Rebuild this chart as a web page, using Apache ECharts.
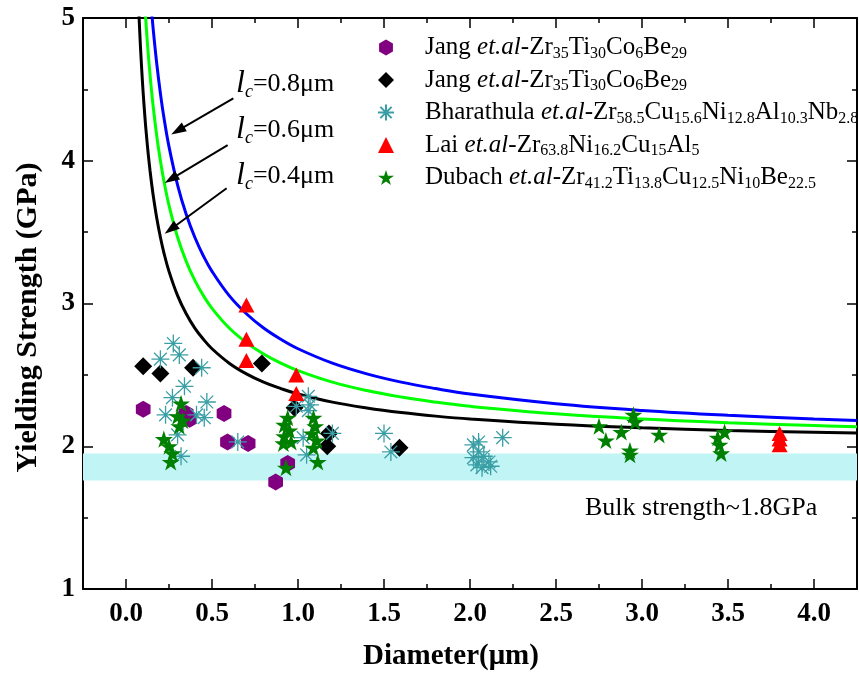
<!DOCTYPE html>
<html><head><meta charset="utf-8">
<script src="https://cdn.jsdelivr.net/npm/echarts@6/dist/echarts.min.js"></script>
<style>html,body{margin:0;padding:0;background:#fff}#c{width:859px;height:684px}</style>
</head><body><div id="c"></div>
<script>
// ---------- data ----------
const xMajorTicks = [0, 0.5, 1.0, 1.5, 2.0, 2.5, 3.0, 3.5, 4.0];
const xMinorTicks = [-0.25, 0, 0.25, 0.5, 0.75, 1.0, 1.25, 1.5, 1.75, 2.0, 2.25, 2.5, 2.75, 3.0, 3.25, 3.5, 3.75, 4.0, 4.25];
const bulkBand = [1.76, 1.95];

// model curves (diameter, strength)
const curveD   = [0.07, 0.08, 0.09, 0.10, 0.11, 0.12, 0.13, 0.14, 0.15, 0.16, 0.18, 0.20, 0.22, 0.25, 0.30, 0.35, 0.40, 0.45, 0.50, 0.60, 0.70, 0.80, 0.90, 1.0, 1.2, 1.4, 1.6, 1.8, 2.0, 2.5, 3.0, 3.5, 4.0, 4.25];
const curveL04 = [5.183, 4.899, 4.667, 4.472, 4.306, 4.163, 4.038, 3.928, 3.830, 3.742, 3.590, 3.464, 3.357, 3.225, 3.055, 2.928, 2.828, 2.749, 2.683, 2.582, 2.507, 2.449, 2.404, 2.366, 2.309, 2.268, 2.236, 2.211, 2.191, 2.154, 2.129, 2.111, 2.098, 2.092];
const curveL06 = [6.188, 5.831, 5.538, 5.292, 5.081, 4.899, 4.739, 4.598, 4.472, 4.359, 4.163, 4.000, 3.861, 3.688, 3.464, 3.295, 3.162, 3.055, 2.966, 2.828, 2.726, 2.646, 2.582, 2.530, 2.449, 2.390, 2.345, 2.309, 2.280, 2.227, 2.191, 2.165, 2.145, 2.137];
const curveL08 = [7.050, 6.633, 6.289, 6.000, 5.752, 5.538, 5.349, 5.182, 5.033, 4.899, 4.667, 4.472, 4.306, 4.099, 3.830, 3.625, 3.464, 3.333, 3.225, 3.055, 2.928, 2.828, 2.749, 2.683, 2.582, 2.507, 2.449, 2.404, 2.366, 2.298, 2.251, 2.217, 2.191, 2.180];

// scatter data [diameter, strength]
const jangHex = [[0.10, 2.26], [0.35, 2.23], [0.37, 2.19], [0.57, 2.23], [0.59, 2.03], [0.71, 2.02], [0.94, 1.88], [0.87, 1.75]];
const jangDiamond = [[0.10, 2.56], [0.20, 2.51], [0.39, 2.55], [0.79, 2.58], [0.98, 2.27], [1.18, 2.09], [1.17, 2.00], [1.59, 1.99]];
const bharathula = [[0.275, 2.72], [0.20, 2.61], [0.31, 2.64], [0.44, 2.55], [0.34, 2.42], [0.27, 2.34], [0.47, 2.31], [0.23, 2.22], [0.41, 2.22], [0.455, 2.20], [0.30, 2.08], [0.32, 1.93], [0.65, 2.03],
  [1.06, 2.35], [1.07, 2.29], [0.99, 2.28], [1.06, 2.25], [1.03, 2.06], [1.05, 1.94], [1.20, 2.09],
  [1.50, 2.09], [1.54, 1.96],
  [2.02, 2.01], [2.05, 2.03], [2.05, 1.96], [2.08, 1.93], [2.11, 1.89], [2.04, 1.87], [2.12, 1.86], [2.07, 1.85], [2.02, 1.92], [2.19, 2.06]];
const lai = [[0.70, 2.99], [0.70, 2.75], [0.70, 2.60], [0.99, 2.50], [0.99, 2.37], [3.80, 2.09], [3.80, 2.05], [3.80, 2.01]];
const dubach = [[0.32, 2.30], [0.30, 2.21], [0.33, 2.18], [0.31, 2.14], [0.22, 2.05], [0.25, 2.00], [0.27, 1.95], [0.26, 1.89],
  [0.94, 2.20], [0.92, 2.15], [0.95, 2.11], [0.92, 2.07], [0.96, 2.03], [0.915, 2.02], [0.93, 1.85],
  [1.09, 2.20], [1.10, 2.14], [1.08, 2.09], [1.11, 2.04], [1.09, 1.99], [1.115, 1.89],
  [2.75, 2.14], [2.79, 2.04], [2.88, 2.10], [2.95, 2.22], [2.96, 2.17], [2.93, 1.97], [2.93, 1.94], [3.10, 2.08], [3.44, 2.06], [3.48, 2.10], [3.45, 2.01], [3.46, 1.95]];

// annotation arrows (data coords): tails and heads
const arrowTails = [[0.624, 4.437], [0.591, 4.110], [0.585, 3.807]];
const arrowHeads = [[0.301, 4.211], [0.262, 3.871], [0.260, 3.520]];
const lcLabels = ['0.8', '0.6', '0.4'];

// ---------- chart ----------
const FONT = '"Liberation Serif","Times New Roman",Times,serif';
const HEX = 'path://M0,-1L0.866,-0.5L0.866,0.5L0,1L-0.866,0.5L-0.866,-0.5Z';
const STAR = 'path://M0,-1L0.2245,-0.309L0.951,-0.309L0.3633,0.118L0.5878,0.809L0,0.382L-0.5878,0.809L-0.3633,0.118L-0.951,-0.309L-0.2245,-0.309Z';
const AST = 'path://M0,-1L0,1M-1,0L1,0M-0.7071,-0.7071L0.7071,0.7071M-0.7071,0.7071L0.7071,-0.7071';
const pairs = (xs, ys) => xs.map((x, i) => [x, ys[i]]);

const legendLabels = {
  'Jang hex': '{sp| }{n|Jang }{i|et.al}{n|-Zr}{s|35}{n|Ti}{s|30}{n|Co}{s|6}{n|Be}{s|29}',
  'Jang diamond': '{sp| }{n|Jang }{i|et.al}{n|-Zr}{s|35}{n|Ti}{s|30}{n|Co}{s|6}{n|Be}{s|29}',
  'Bharathula': '{sp| }{n|Bharathula }{i|et.al}{n|-Zr}{s|58.5}{n|Cu}{s|15.6}{n|Ni}{s|12.8}{n|Al}{s|10.3}{n|Nb}{s|2.8}',
  'Lai': '{sp| }{n|Lai }{i|et.al}{n|-Zr}{s|63.8}{n|Ni}{s|16.2}{n|Cu}{s|15}{n|Al}{s|5}',
  'Dubach': '{sp| }{n|Dubach }{i|et.al}{n|-Zr}{s|41.2}{n|Ti}{s|13.8}{n|Cu}{s|12.5}{n|Ni}{s|10}{n|Be}{s|22.5}'
};

const axisLineStyle = { color: '#000', width: 2 };
const tickStyle = { color: '#000', width: 1.5 };

const chart = echarts.init(document.getElementById('c'), null, { renderer: 'canvas', width: 859, height: 684 });

const annRich = {
  l: { fontFamily: FONT, fontSize: 32, fontStyle: 'italic', lineHeight: 34, verticalAlign: 'middle', fill: '#000' },
  c: { fontFamily: FONT, fontSize: 18, fontStyle: 'italic', lineHeight: 11, verticalAlign: 'bottom', fill: '#000' },
  n: { fontFamily: FONT, fontSize: 26, lineHeight: 34, verticalAlign: 'middle', fill: '#000' }
};
const annTops = [68, 114, 160];

const option = {
  animation: false,
  backgroundColor: '#fff',
  grid: { left: 83, right: 2, top: 18, bottom: 95, containLabel: false },
  legend: {
    orient: 'vertical', left: 372, top: 30,
    itemWidth: 16, itemHeight: 16, itemGap: 6,
    selectedMode: false,
    data: ['Jang hex', 'Jang diamond', 'Bharathula', 'Lai', 'Dubach'],
    formatter: name => legendLabels[name],
    textStyle: {
      fontFamily: FONT, fontSize: 25, color: '#000',
      rich: {
        sp: { width: 26, fontSize: 25, lineHeight: 28 },
        n: { fontFamily: FONT, fontSize: 25, lineHeight: 28, verticalAlign: 'middle', color: '#000' },
        i: { fontFamily: FONT, fontSize: 25, lineHeight: 28, fontStyle: 'italic', verticalAlign: 'middle', color: '#000' },
        s: { fontFamily: FONT, fontSize: 16, lineHeight: 9, verticalAlign: 'bottom', color: '#000' }
      }
    }
  },
  xAxis: [
    {
      type: 'value', min: -0.25, max: 4.25, position: 'bottom',
      name: 'Diameter(μm)', nameLocation: 'middle', nameGap: 53,
      nameTextStyle: { fontFamily: FONT, fontSize: 29, fontWeight: 'bold', color: '#000', padding: [0, 38, 0, 0] },
      axisLine: { show: true, onZero: false, lineStyle: axisLineStyle },
      axisTick: { show: true, inside: true, length: 10, lineStyle: tickStyle, customValues: xMajorTicks },
      axisLabel: { show: true, customValues: xMajorTicks, margin: 12, formatter: v => v.toFixed(1),
        fontFamily: FONT, fontSize: 27, fontWeight: 'bold', color: '#000' },
      splitLine: { show: false }
    },
    {
      type: 'value', min: -0.25, max: 4.25, position: 'bottom',
      axisLine: { show: false, onZero: false },
      axisTick: { show: true, inside: true, length: 5, lineStyle: tickStyle, customValues: xMinorTicks },
      axisLabel: { show: false, customValues: xMinorTicks },
      splitLine: { show: false }
    },
    {
      type: 'value', min: -0.25, max: 4.25, position: 'top',
      axisLine: { show: true, onZero: false, lineStyle: axisLineStyle },
      axisTick: { show: true, inside: true, length: 10, lineStyle: tickStyle, customValues: xMajorTicks },
      axisLabel: { show: false, customValues: xMajorTicks },
      splitLine: { show: false }
    },
    {
      type: 'value', min: -0.25, max: 4.25, position: 'top',
      axisLine: { show: false, onZero: false },
      axisTick: { show: true, inside: true, length: 5, lineStyle: tickStyle, customValues: xMinorTicks },
      axisLabel: { show: false, customValues: xMinorTicks },
      splitLine: { show: false }
    }
  ],
  yAxis: [
    {
      type: 'value', min: 1, max: 5, interval: 1, position: 'left',
      name: 'Yielding Strength (GPa)', nameLocation: 'middle', nameGap: 40,
      nameTextStyle: { fontFamily: FONT, fontSize: 30, fontWeight: 'bold', color: '#000', padding: [0, 28, 0, 0] },
      axisLine: { show: true, onZero: false, lineStyle: axisLineStyle },
      axisTick: { show: true, inside: true, length: 10, lineStyle: tickStyle },
      minorTick: { show: true, splitNumber: 2, length: 5, lineStyle: tickStyle },
      axisLabel: { show: true, margin: 8, fontFamily: FONT, fontSize: 27, fontWeight: 'bold', color: '#000' },
      splitLine: { show: false }, minorSplitLine: { show: false }
    },
    {
      type: 'value', min: 1, max: 5, interval: 1, position: 'right',
      axisLine: { show: true, onZero: false, lineStyle: axisLineStyle },
      axisTick: { show: true, inside: true, length: 10, lineStyle: tickStyle },
      minorTick: { show: true, splitNumber: 2, length: 5, lineStyle: tickStyle },
      axisLabel: { show: false },
      splitLine: { show: false }
    }
  ],
  series: [
    {
      name: 'lc=0.4', type: 'line', data: pairs(curveD, curveL04), xAxisIndex: 0, yAxisIndex: 0,
      smooth: 0.4, showSymbol: false, symbol: 'none', silent: true, clip: true, z: 2,
      lineStyle: { color: '#000', width: 3 },
      markArea: {
        silent: true, itemStyle: { color: '#c1f4f4', opacity: 1 }, label: { show: false },
        data: [[{ yAxis: bulkBand[0] }, { yAxis: bulkBand[1] }]]
      },
      markLine: {
        silent: true, symbol: ['none', 'triangle'], symbolSize: [10, 15], label: { show: false },
        lineStyle: { color: '#000', width: 2, type: 'solid' },
        emphasis: { disabled: true },
        data: arrowTails.map((t, i) => [{ coord: t }, { coord: arrowHeads[i] }])
      }
    },
    {
      name: 'lc=0.6', type: 'line', data: pairs(curveD, curveL06),
      smooth: 0.4, showSymbol: false, symbol: 'none', silent: true, clip: true, z: 2,
      lineStyle: { color: '#00ff00', width: 3 }
    },
    {
      name: 'lc=0.8', type: 'line', data: pairs(curveD, curveL08),
      smooth: 0.4, showSymbol: false, symbol: 'none', silent: true, clip: true, z: 2,
      lineStyle: { color: '#0000ff', width: 3 }
    },
    {
      name: 'Jang hex', type: 'scatter', data: jangHex, symbol: HEX, symbolSize: 17, symbolKeepAspect: true, z: 3,
      itemStyle: { color: '#800080', opacity: 1 }
    },
    {
      name: 'Jang diamond', type: 'scatter', data: jangDiamond, symbol: 'diamond', symbolSize: 18, z: 3,
      itemStyle: { color: '#000', opacity: 1 }
    },
    {
      name: 'Bharathula', type: 'scatter', data: bharathula, symbol: AST, symbolSize: 18, symbolKeepAspect: true, z: 3,
      itemStyle: { color: 'rgba(0,0,0,0)', borderColor: '#3a9ea5', borderWidth: 1.3, opacity: 1 }
    },
    {
      name: 'Lai', type: 'scatter', data: lai, symbol: 'triangle', symbolSize: [16, 15], z: 3,
      itemStyle: { color: '#ff0000', opacity: 1 }
    },
    {
      name: 'Dubach', type: 'scatter', data: dubach, symbol: STAR, symbolSize: 18, symbolKeepAspect: true, z: 3,
      itemStyle: { color: '#008000', opacity: 1 }
    }
  ],
  graphic: lcLabels.map((v, i) => ({
    type: 'text', left: 236, top: annTops[i], silent: true, z: 10,
    style: { text: '{l|l}{c|c}{n|=' + v + 'μm}', rich: annRich, fill: '#000' }
  })).concat([{
    type: 'text', left: 585, top: 493, silent: true, z: 10,
    style: { text: 'Bulk strength~1.8GPa', fontFamily: FONT, fontSize: 26, lineHeight: 30, fill: '#000' }
  }])
};
chart.setOption(option);
</script></body></html>
